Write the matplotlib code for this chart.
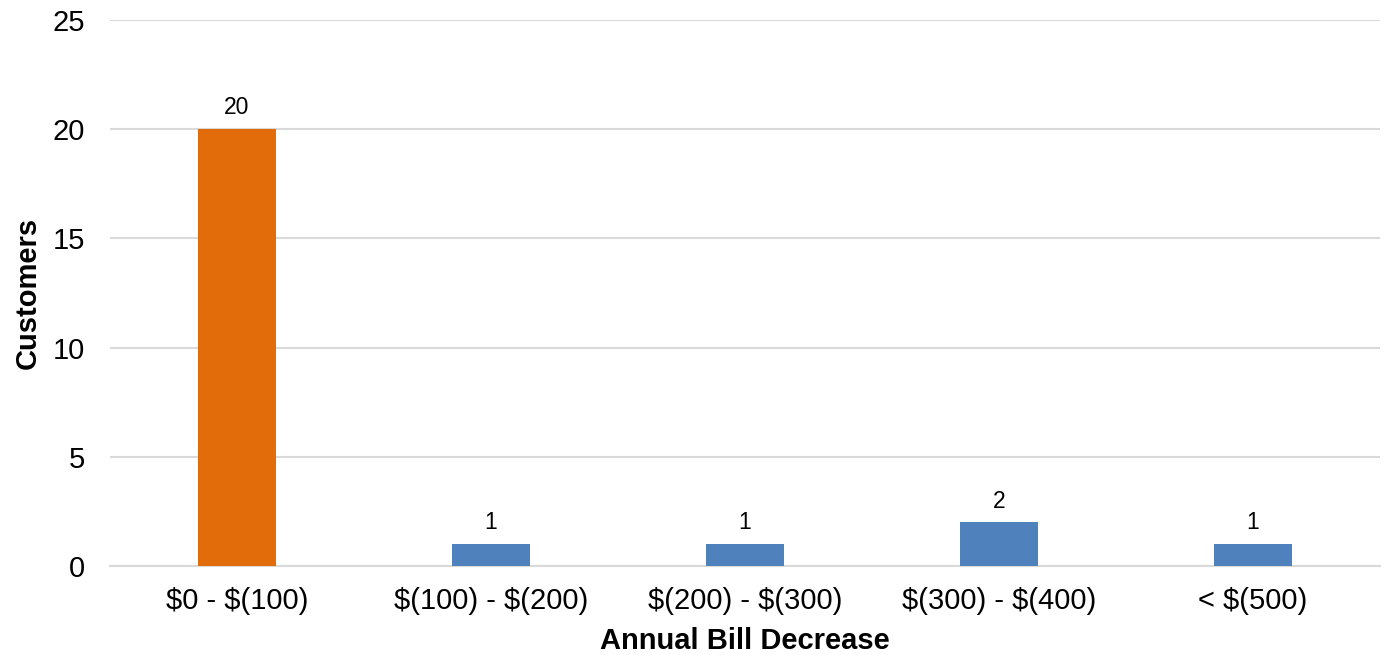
import matplotlib
matplotlib.use("Agg")
import matplotlib.pyplot as plt

# data
categories = ["$0 - $(100)", "$(100) - $(200)", "$(200) - $(300)", "$(300) - $(400)", "< $(500)"]
customers = [20, 1, 1, 2, 1]
bar_colors = ["#E36C0A", "#4F81BD", "#4F81BD", "#4F81BD", "#4F81BD"]

plt.rcParams["font.family"] = ["Liberation Sans", "DejaVu Sans"]
plt.rcParams["text.parse_math"] = False

fig = plt.figure(figsize=(13.85, 6.55), dpi=100)
ax = fig.add_axes([110 / 1385, 89 / 655, 1270 / 1385, 546 / 655])

x = range(len(categories))
bars = ax.bar(x, customers, width=0.31, color=bar_colors, zorder=3)

for b, v in zip(bars, customers):
    ax.annotate(str(v), (b.get_x() + b.get_width() / 2, v), xytext=(0, 7),
                textcoords="offset points", ha="center", va="bottom", fontsize=16.5)

ax.set_xlim(-0.5, len(categories) - 0.5)
ax.set_ylim(0, 25)
ax.set_yticks([0, 5, 10, 15, 20, 25])
ax.set_xticks(list(x))
ax.set_xticklabels(categories)
ax.tick_params(axis="both", length=0, labelsize=21)
ax.tick_params(axis="y", pad=18)
ax.tick_params(axis="x", pad=15)

ax.grid(axis="y", color="#D9D9D9", linewidth=1.5, zorder=0)
for s in ["top", "right", "left"]:
    ax.spines[s].set_visible(False)
ax.spines["bottom"].set_color("#D9D9D9")
ax.spines["bottom"].set_linewidth(1.5)

ax.set_ylabel("Customers", fontsize=21, fontweight="bold", va="center")
ax.yaxis.set_label_coords(-0.065, 0.5)
ax.set_xlabel("Annual Bill Decrease", fontsize=21, fontweight="bold", va="center")
ax.xaxis.set_label_coords(0.5, -0.138)

fig.savefig("out.png", dpi=100)
